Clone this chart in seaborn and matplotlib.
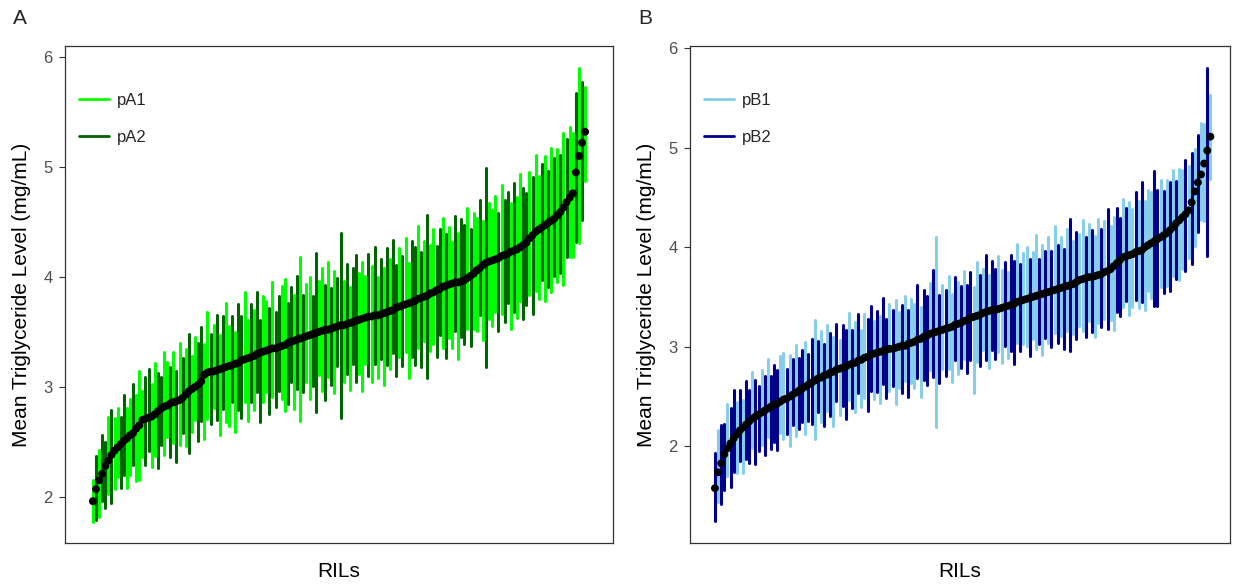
import numpy as np
import pandas as pd
import matplotlib
matplotlib.use("Agg")
import matplotlib.pyplot as plt
import seaborn as sns

# ---------------- data ----------------
mean_A = [1.96,2.07,2.15,2.21,2.28,2.33,2.38,2.42,2.45,2.48,
          2.51,2.53,2.56,2.58,2.62,2.65,2.70,2.71,2.72,2.73,
          2.75,2.78,2.80,2.82,2.83,2.85,2.86,2.87,2.88,2.90,
          2.93,2.96,2.98,3.00,3.02,3.05,3.11,3.13,3.14,3.14,
          3.15,3.16,3.17,3.18,3.19,3.20,3.21,3.22,3.24,3.25,
          3.26,3.27,3.28,3.30,3.31,3.32,3.33,3.34,3.35,3.35,
          3.36,3.37,3.38,3.40,3.41,3.42,3.43,3.44,3.45,3.46,
          3.47,3.48,3.49,3.50,3.51,3.52,3.52,3.53,3.54,3.55,
          3.56,3.56,3.57,3.58,3.59,3.60,3.61,3.62,3.63,3.64,
          3.64,3.65,3.65,3.66,3.67,3.68,3.69,3.70,3.72,3.73,
          3.74,3.75,3.76,3.77,3.78,3.80,3.81,3.82,3.83,3.85,
          3.86,3.88,3.89,3.91,3.92,3.93,3.94,3.95,3.95,3.96,
          3.97,3.99,4.01,4.03,4.06,4.08,4.11,4.13,4.14,4.15,
          4.16,4.17,4.19,4.20,4.21,4.23,4.24,4.25,4.27,4.29,
          4.31,4.35,4.38,4.41,4.43,4.45,4.47,4.49,4.51,4.53,
          4.56,4.59,4.63,4.68,4.72,4.76,4.95,5.10,5.22,5.32]
up_A = [0.19,0.30,0.28,0.35,0.22,0.40,0.41,0.30,0.36,0.25,
        0.42,0.28,0.33,0.45,0.31,0.49,0.26,0.38,0.44,0.30,
        0.47,0.35,0.29,0.50,0.40,0.33,0.46,0.27,0.52,0.36,
        0.41,0.52,0.30,0.45,0.38,0.49,0.28,0.55,0.34,0.42,
        0.50,0.31,0.47,0.58,0.36,0.44,0.29,0.53,0.40,0.61,
        0.35,0.48,0.42,0.56,0.30,0.51,0.45,0.38,0.60,0.33,
        0.47,0.55,0.60,0.36,0.50,0.42,0.58,0.74,0.39,0.48,
        0.53,0.35,0.73,0.46,0.57,0.41,0.62,0.37,0.51,0.44,
        0.84,0.40,0.55,0.33,0.49,0.60,0.43,0.52,0.38,0.57,
        0.46,0.62,0.35,0.50,0.41,0.58,0.47,0.64,0.39,0.53,
        0.45,0.60,0.37,0.56,0.49,0.66,0.42,0.51,0.73,0.44,
        0.58,0.40,0.55,0.63,0.47,0.52,0.38,0.60,0.45,0.57,
        0.50,0.64,0.43,0.55,0.48,0.62,0.40,0.86,0.53,0.46,
        0.58,0.41,0.65,0.50,0.56,0.44,0.61,0.48,0.67,0.52,
        0.45,0.60,0.53,0.70,0.49,0.58,0.63,0.47,0.66,0.55,
        0.60,0.52,0.68,0.57,0.64,0.55,0.72,0.80,0.55,0.41]
dn_A = [0.19,0.28,0.33,0.25,0.38,0.30,0.44,0.35,0.27,0.40,
        0.31,0.45,0.36,0.29,0.48,0.50,0.34,0.42,0.30,0.46,
        0.38,0.52,0.33,0.44,0.29,0.49,0.37,0.55,0.41,0.32,
        0.47,0.56,0.39,0.30,0.51,0.36,0.58,0.42,0.48,0.33,
        0.45,0.60,0.37,0.50,0.55,0.34,0.62,0.43,0.52,0.39,
        0.57,0.41,0.49,0.35,0.63,0.46,0.38,0.59,0.44,0.53,
        0.40,0.48,0.60,0.56,0.37,0.62,0.45,0.75,0.50,0.42,
        0.58,0.47,0.72,0.39,0.55,0.64,0.43,0.51,0.60,0.36,
        0.84,0.52,0.45,0.61,0.38,0.56,0.49,0.66,0.42,0.54,
        0.60,0.44,0.57,0.41,0.65,0.48,0.53,0.39,0.62,0.46,
        0.55,0.43,0.68,0.50,0.58,0.45,0.63,0.40,0.75,0.52,
        0.47,0.61,0.42,0.56,0.66,0.49,0.59,0.44,0.70,0.51,
        0.58,0.46,0.64,0.50,0.55,0.43,0.68,0.95,0.52,0.60,
        0.48,0.66,0.53,0.61,0.45,0.70,0.56,0.62,0.49,0.67,
        0.57,0.51,0.72,0.54,0.63,0.48,0.69,0.58,0.65,0.52,
        0.61,0.55,0.70,0.50,0.54,0.58,0.63,0.79,0.70,0.45]
pop_A = ("1212212112" "2112111221" "1221121212" "1211221121"
         "2121121221" "1212211212" "2112212121" "1221121212"
         "2121221112" "1212121221" "2112212121" "1221211212"
         "2121121211" "1212212112" "2121121212" "1212112121")

mean_B = [1.58,1.74,1.83,1.92,1.98,2.03,2.08,2.12,2.16,2.19,
          2.22,2.25,2.28,2.30,2.32,2.34,2.36,2.38,2.40,2.42,
          2.43,2.45,2.47,2.48,2.50,2.52,2.54,2.56,2.58,2.60,
          2.62,2.64,2.66,2.68,2.69,2.71,2.72,2.74,2.75,2.77,
          2.78,2.79,2.80,2.82,2.83,2.84,2.86,2.87,2.89,2.90,
          2.92,2.93,2.94,2.95,2.96,2.97,2.98,2.98,2.99,3.00,
          3.01,3.01,3.03,3.04,3.05,3.07,3.08,3.10,3.11,3.13,
          3.14,3.15,3.16,3.17,3.18,3.19,3.20,3.22,3.23,3.24,
          3.26,3.27,3.29,3.30,3.31,3.32,3.34,3.35,3.36,3.37,
          3.37,3.38,3.39,3.40,3.41,3.42,3.43,3.45,3.46,3.47,
          3.48,3.49,3.50,3.51,3.52,3.53,3.54,3.55,3.56,3.57,
          3.58,3.59,3.60,3.61,3.62,3.63,3.65,3.67,3.68,3.69,
          3.70,3.70,3.71,3.72,3.73,3.75,3.76,3.78,3.81,3.84,
          3.87,3.90,3.91,3.92,3.93,3.95,3.96,3.97,4.00,4.02,
          4.04,4.06,4.08,4.10,4.12,4.14,4.17,4.20,4.24,4.27,
          4.30,4.33,4.37,4.45,4.56,4.65,4.73,4.84,4.97,5.11]
up_B = [0.35,0.42,0.38,0.30,0.45,0.36,0.49,0.33,0.41,0.28,
        0.44,0.32,0.47,0.37,0.29,0.43,0.35,0.50,0.31,0.40,
        0.34,0.46,0.47,0.30,0.42,0.36,0.48,0.33,0.39,0.45,
        0.31,0.44,0.61,0.38,0.47,0.32,0.50,0.40,0.35,0.46,
        0.29,0.43,0.37,0.52,0.34,0.41,0.47,0.30,0.44,0.38,
        0.49,0.33,0.42,0.36,0.53,0.31,0.45,0.39,0.48,0.35,
        0.41,0.50,0.34,0.44,0.38,0.55,0.32,0.47,0.40,0.51,
        0.63,0.95,0.36,0.45,0.39,0.52,0.33,0.48,0.42,0.37,
        0.50,0.35,0.46,0.30,0.54,0.40,0.44,0.57,0.36,0.49,
        0.41,0.53,0.38,0.45,0.34,0.50,0.43,0.58,0.37,0.47,
        0.52,0.39,0.45,0.61,0.36,0.49,0.42,0.55,0.40,0.64,
        0.44,0.51,0.38,0.57,0.66,0.43,0.50,0.46,0.59,0.41,
        0.53,0.47,0.40,0.56,0.45,0.51,0.62,0.43,0.49,0.55,
        0.42,0.58,0.48,0.53,0.45,0.60,0.50,0.68,0.46,0.55,
        0.51,0.70,0.49,0.57,0.44,0.53,0.48,0.58,0.42,0.52,
        0.47,0.55,0.45,0.50,0.43,0.48,0.52,0.40,0.83,0.42]
dn_B = [0.33,0.30,0.41,0.36,0.28,0.44,0.34,0.39,0.31,0.46,
        0.35,0.42,0.30,0.48,0.37,0.33,0.45,0.29,0.43,0.38,
        0.47,0.32,0.40,0.36,0.50,0.31,0.44,0.39,0.34,0.48,
        0.37,0.42,0.59,0.33,0.45,0.51,0.36,0.43,0.55,0.31,
        0.46,0.38,0.52,0.35,0.44,0.49,0.32,0.47,0.40,0.54,
        0.36,0.45,0.39,0.51,0.33,0.48,0.42,0.37,0.56,0.41,
        0.47,0.35,0.53,0.40,0.46,0.38,0.58,0.43,0.49,0.36,
        0.44,0.96,0.52,0.39,0.47,0.41,0.55,0.35,0.50,0.45,
        0.38,0.53,0.42,0.76,0.46,0.51,0.37,0.48,0.57,0.40,
        0.49,0.43,0.55,0.39,0.52,0.46,0.60,0.41,0.50,0.44,
        0.47,0.58,0.42,0.53,0.49,0.61,0.45,0.51,0.56,0.43,
        0.54,0.48,0.62,0.45,0.66,0.50,0.57,0.46,0.52,0.59,
        0.44,0.55,0.61,0.48,0.53,0.47,0.58,0.51,0.64,0.49,
        0.56,0.50,0.45,0.60,0.53,0.48,0.57,0.52,0.63,0.46,
        0.55,0.65,0.67,0.50,0.58,0.53,0.61,0.49,0.56,0.60,
        0.52,0.57,0.48,0.62,0.55,0.50,0.46,0.58,1.06,0.43]
pop_B = ("2122122121" "2212212122" "2112121221" "2212121212"
         "1221212112" "2121221211" "2121121221" "2121211212"
         "1221121212" "2112122121" "1211212121" "2121212112"
         "1211212112" "2121121211" "1221212121" "1212121121")

labels_A = ["pA1", "pA2"]
labels_B = ["pB1", "pB2"]
colors_A = ["#00FF00", "#006400"]
colors_B = ["#87CEEB", "#00008B"]
ticks_A = [2, 3, 4, 5, 6]
ticks_B = [2, 3, 4, 5, 6]
ylab = "Mean Triglyceride Level (mg/mL)"
xlab = "RILs"

# ---------------- styling ----------------
sns.set_theme(style="white")
plt.rcParams["font.family"] = ["Liberation Sans", "DejaVu Sans"]

W, H = 1238, 585
fig = plt.figure(figsize=(W / 100, H / 100), dpi=100)


def px_axes(l, t, r, b):
    return fig.add_axes([l / W, 1 - b / H, (r - l) / W, (b - t) / H])


def build(mean, up, dn, pops, labels):
    n = len(mean)
    df = pd.DataFrame({
        "rid": np.arange(n),
        "mean": mean,
        "lo": np.array(mean) - np.array(dn),
        "hi": np.array(mean) + np.array(up),
        "pop": [labels[int(c) - 1] for c in pops],
    })
    long = pd.concat([
        df[["rid", "lo", "pop"]].rename(columns={"lo": "y"}),
        df[["rid", "hi", "pop"]].rename(columns={"hi": "y"}),
    ]).sort_values(["rid", "y"])
    long["x"] = long["rid"]
    return df, long


def panel(ax, mean, up, dn, pops, labels, colors, ticks, ylim, xlim):
    df, long = build(mean, up, dn, pops, labels)
    pal = dict(zip(labels, colors))
    sns.lineplot(data=long, x="x", y="y", units="rid", estimator=None,
                 hue="pop", hue_order=labels, palette=pal, sort=False,
                 linewidth=2.2, ax=ax, legend=True)
    sns.scatterplot(data=df, x="rid", y="mean", color="black", s=32,
                    edgecolor="none", ax=ax, legend=False, zorder=5)
    ax.set_xlim(*xlim)
    ax.set_ylim(*ylim)
    ax.set_yticks(ticks)
    ax.set_xticks([])
    ax.tick_params(axis="y", left=True, length=4, width=0.8, color="#333333",
                   labelsize=12, labelcolor="#4D4D4D", pad=5)
    for s in ax.spines.values():
        s.set_color("#333333")
        s.set_linewidth(0.9)
    ax.set_xlabel(xlab, fontsize=15, labelpad=14, color="black")
    ax.set_ylabel(ylab, fontsize=15, labelpad=9, color="black")
    leg = ax.legend(loc="upper left", bbox_to_anchor=(0.025, 0.905),
                    frameon=False, fontsize=12, handlelength=1.8,
                    handletextpad=0.5, labelspacing=1.3, borderpad=0,
                    borderaxespad=0)
    for h in leg.get_lines():
        h.set_linewidth(2)


axA = px_axes(65, 46, 613, 543)
panel(axA, mean_A, up_A, dn_A, pop_A, labels_A, colors_A, ticks_A,
      (1.58, 6.10), (-9, 168))
axB = px_axes(690, 46, 1230, 543)
panel(axB, mean_B, up_B, dn_B, pop_B, labels_B, colors_B, ticks_B,
      (1.03, 6.02), (-8, 165.3))

fig.text(20 / W, 1 - 18 / H, "A", fontsize=15, ha="center", va="center")
fig.text(645 / W, 1 - 18 / H, "B", fontsize=15, ha="center", va="center")

fig.savefig("out.png", dpi=100)
